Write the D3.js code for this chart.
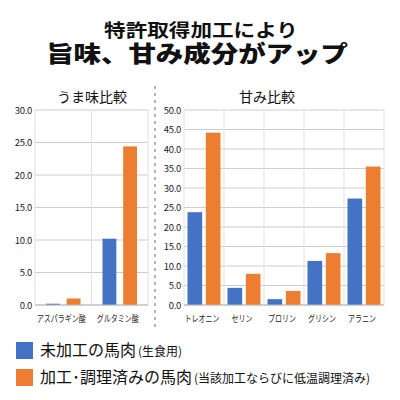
<!DOCTYPE html>
<html><head><meta charset="utf-8">
<script src="https://cdn.jsdelivr.net/npm/d3@7"></script>
<style>
html,body{margin:0;padding:0;background:#fff;}
text{font-family:"Noto Sans CJK JP","Noto Sans",sans-serif;}
</style></head>
<body><svg id="c" width="400" height="400"></svg>
<script>
const umamiCategories = ["アスパラギン酸","グルタミン酸"];
const umamiRaw = [0.2, 10.2];
const umamiProcessed = [1.0, 24.4];
const umamiTicks = [0,5,10,15,20,25,30];

const sweetCategories = ["トレオニン","セリン","プロリン","グリシン","アラニン"];
const sweetRaw = [23.8, 4.4, 1.5, 11.3, 27.3];
const sweetProcessed = [44.2, 8.0, 3.6, 13.3, 35.5];
const sweetTicks = [0,5,10,15,20,25,30,35,40,45,50];

const seriesNames = ["未加工の馬肉","加工･調理済みの馬肉"];
const seriesNotes = ["(生食用)","(当該加工ならびに低温調理済み)"];
const colors = ["#4472C4","#ED7D31"];

const svg = d3.select("#c");

svg.append("text").attr("transform","translate(201,37) scale(1.2,1)").attr("text-anchor","middle")
  .attr("font-size",18).attr("font-weight",700).attr("fill","#111").text("特許取得加工により");
svg.append("text").attr("transform","translate(197,62) scale(1.22,1)").attr("text-anchor","middle")
  .attr("font-size",22.5).attr("font-weight",900).attr("fill","#111").text("旨味、甘み成分がアップ");

function panel(opts){
  const {cats, a, b, ticks, max, x0, x1, top, bottom, title, titleX, innerPad, edge} = opts;
  const g = svg.append("g");
  const xs = d3.scaleBand().domain(cats).range([x0,x1]).padding(0);
  const ys = d3.scaleLinear().domain([0,max]).range([bottom,top]);
  const xi = d3.scaleBand().domain([0,1]).range([edge, xs.bandwidth()-edge]).paddingInner(innerPad);
  g.selectAll(".hg").data(ticks).enter().append("line")
    .attr("x1",x0).attr("x2",x1).attr("y1",d=>ys(d)).attr("y2",d=>ys(d))
    .attr("stroke","#cccccc").attr("stroke-width",1);
  const vb = cats.map(c=>xs(c)).concat([x1]);
  g.selectAll(".vg").data(vb).enter().append("line")
    .attr("x1",d=>d).attr("x2",d=>d).attr("y1",top).attr("y2",bottom)
    .attr("stroke","#e0e0e0").attr("stroke-width",1);
  const ax = d3.axisLeft(ys).tickValues(ticks).tickFormat(d3.format(".1f")).tickSize(0).tickPadding(3);
  const ag = g.append("g").attr("transform",`translate(${x0},0)`).call(ax);
  ag.select(".domain").remove();
  ag.selectAll("text").attr("font-size",9.5).attr("fill","#222").attr("font-family","'DejaVu Sans',sans-serif").attr("letter-spacing",-0.3);
  const data = cats.map((c,i)=>({c, v:[a[i],b[i]]}));
  data.forEach(d=>{
    d.v.forEach((v,k)=>{
      g.append("rect").attr("x",xs(d.c)+xi(k)).attr("width",xi.bandwidth())
        .attr("y",ys(v)).attr("height",bottom-ys(v)).attr("fill",colors[k]);
    });
  });
  g.append("line").attr("x1",x0).attr("x2",x1).attr("y1",bottom).attr("y2",bottom).attr("stroke","#bbb");
  const bx = d3.axisBottom(xs).tickSize(0).tickPadding(0);
  const bg = g.append("g").attr("transform",`translate(0,${bottom})`).call(bx);
  bg.select(".domain").remove();
  bg.selectAll(".tick text").attr("y",null).attr("dy",null)
    .attr("transform","translate(-2,16.5) scale(0.78,1)")
    .attr("font-size",9).attr("fill","#222").attr("font-family","'Noto Sans CJK JP',sans-serif");
  g.append("text").attr("x",titleX).attr("y",102).attr("text-anchor","middle")
    .attr("font-size",14).attr("fill","#111").text(title);
}

panel({cats:umamiCategories, a:umamiRaw, b:umamiProcessed, ticks:umamiTicks, max:30,
  x0:35, x1:148, top:110, bottom:305, title:"うま味比較", titleX:92, innerPad:0.33, edge:11});
panel({cats:sweetCategories, a:sweetRaw, b:sweetProcessed, ticks:sweetTicks, max:50,
  x0:184, x1:384, top:110, bottom:305, title:"甘み比較", titleX:267, innerPad:0.2, edge:3.5});

svg.append("line").attr("x1",155).attr("x2",155).attr("y1",86).attr("y2",330)
  .attr("stroke","#666").attr("stroke-width",1).attr("stroke-dasharray","3,4");

const lg = svg.append("g");
seriesNames.forEach((n,i)=>{
  const y = 342 + i*27;
  lg.append("rect").attr("x",16).attr("y",y).attr("width",17).attr("height",17).attr("fill",colors[i]);
  const t = lg.append("text").attr("x",40).attr("y",y+14).attr("fill","#111");
  t.append("tspan").attr("font-size",16).text(n);
  t.append("tspan").attr("font-size",12).attr("dx",2).text(seriesNotes[i]);
});
</script></body></html>
